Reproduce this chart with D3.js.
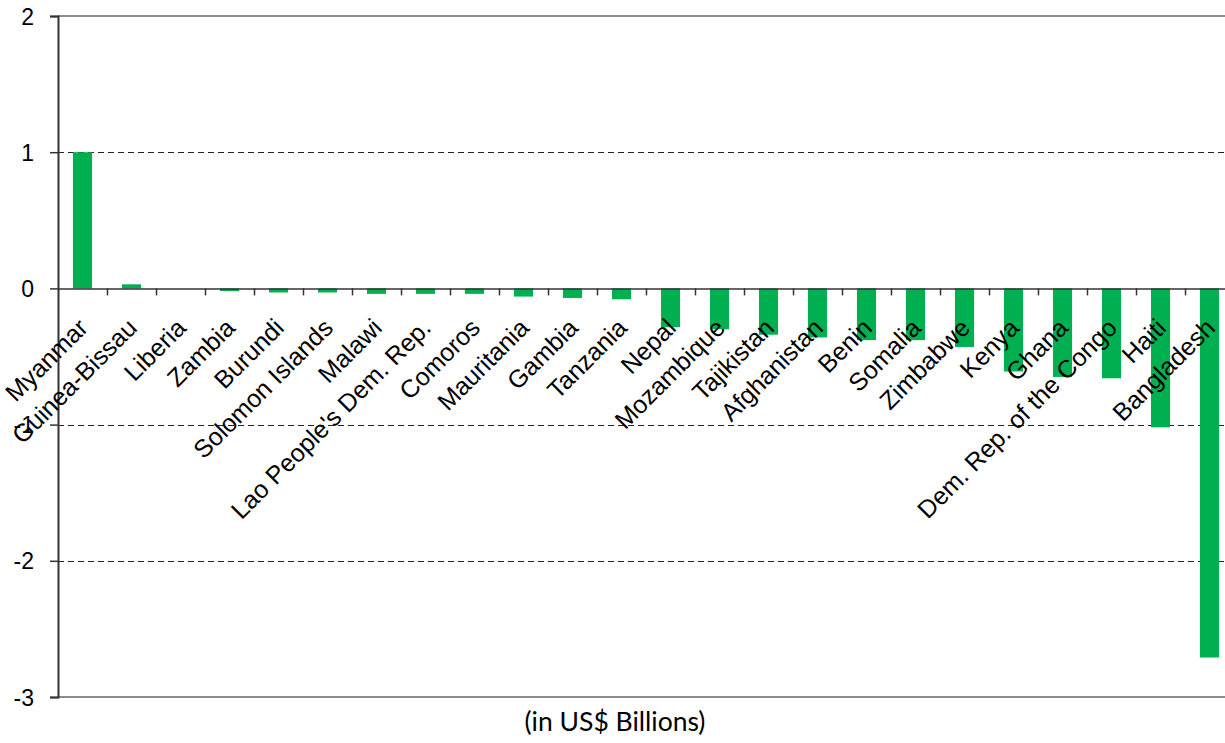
<!DOCTYPE html>
<html>
<head>
<meta charset="utf-8">
<script src="https://cdn.jsdelivr.net/npm/d3@7"></script>
<style>
  html, body { margin: 0; padding: 0; background: #fff; }
  svg { display: block; }
  .arial { font-family: 'Liberation Sans', Arial, sans-serif; }
</style>
</head>
<body>
<svg id="chart" width="1225" height="743"></svg>
<script>
const countries = ["Myanmar", "Guinea-Bissau", "Liberia", "Zambia", "Burundi", "Solomon Islands",
  "Malawi", "Lao People's Dem. Rep.", "Comoros", "Mauritania", "Gambia", "Tanzania", "Nepal",
  "Mozambique", "Tajikistan", "Afghanistan", "Benin", "Somalia", "Zimbabwe", "Kenya", "Ghana",
  "Dem. Rep. of the Congo", "Haiti", "Bangladesh"];
const values = [1.00, 0.03, 0.00, -0.02, -0.03, -0.03, -0.04, -0.04, -0.04, -0.06, -0.07, -0.08,
  -0.285, -0.30, -0.34, -0.36, -0.38, -0.38, -0.43, -0.61, -0.65, -0.66, -1.02, -2.71];
const yTicks = [2, 1, 0, -1, -2, -3];
const gridTicks = [1, -1, -2];
const axisTitle = "(in US$ Billions)";

(function () {
const svg = d3.select("#chart");
const mLeft = 58, mRight = 1234, mTop = 16, mBottom = 697;

const x = d3.scaleBand().domain(countries).range([mLeft, mRight]).padding(0);
const y = d3.scaleLinear().domain([-3, 2]).range([mBottom, mTop]);
const barW = x.bandwidth() * 0.39;

// top & bottom frame
svg.append("line").attr("x1", mLeft).attr("x2", mRight).attr("y1", y(2)).attr("y2", y(2))
  .attr("stroke", "#8c8c8c").attr("stroke-width", 2);
svg.append("line").attr("x1", mLeft).attr("x2", mRight).attr("y1", y(-3)).attr("y2", y(-3))
  .attr("stroke", "#8c8c8c").attr("stroke-width", 2);

// gridlines
svg.append("g").selectAll("line").data(gridTicks).join("line")
  .attr("x1", mLeft).attr("x2", mRight)
  .attr("y1", d => Math.round(y(d)) + 0.5).attr("y2", d => Math.round(y(d)) + 0.5)
  .attr("stroke", "#222").attr("stroke-width", 1).attr("stroke-dasharray", "6,4");

// bars
svg.append("g").selectAll("rect").data(values).join("rect")
  .attr("x", (d, i) => x(countries[i]) + x.bandwidth() / 2 - barW / 2)
  .attr("width", barW)
  .attr("y", d => y(Math.max(0, d)))
  .attr("height", d => Math.abs(y(d) - y(0)))
  .attr("fill", "#00b050");

// zero axis with category ticks
const xAxis = d3.axisBottom(x).tickSizeInner(0).tickSizeOuter(0).tickFormat("");
const gx = svg.append("g").attr("transform", `translate(0,${y(0)})`).call(xAxis);
gx.select(".domain").attr("stroke", "#333").attr("stroke-width", 1.5);
gx.selectAll(".tick").remove();
svg.append("g").selectAll("line").data(countries.slice(1)).join("line")
  .attr("x1", d => Math.round(x(d)) + 0.5).attr("x2", d => Math.round(x(d)) + 0.5)
  .attr("y1", y(0)).attr("y2", y(0) + 7)
  .attr("stroke", "#333").attr("stroke-width", 1.5);

// y axis
const yAxis = d3.axisLeft(y).tickValues(yTicks).tickSize(8).tickPadding(16).tickFormat(d => String(d));
const gy = svg.append("g").attr("transform", `translate(${mLeft},0)`).call(yAxis);
gy.attr("font-family", null).attr("font-size", null).attr("class", "arial");
gy.select(".domain").attr("stroke", "#333").attr("stroke-width", 2);
gy.selectAll(".tick line").attr("stroke", "#333").attr("stroke-width", 1.5);
gy.selectAll(".tick text").style("font-size", "23px").attr("fill", "#000").attr("dy", "0.35em");

// category labels
svg.append("g").attr("class", "arial").selectAll("text").data(countries).join("text")
  .attr("transform", d => `translate(${x(d) + x.bandwidth() / 2 + 7},${y(0) + 41}) rotate(-45)`)
  .attr("text-anchor", "end")
  .style("font-size", "25px")
  .attr("fill", "#000")
  .text(d => d);

// axis title
svg.append("text")
  .attr("x", 615).attr("y", 731)
  .attr("text-anchor", "middle")
  .style("font-family", "Lato, Carlito, Calibri, sans-serif")
  .style("font-size", "26.5px")
  .attr("fill", "#000")
  .text(axisTitle);
})();
</script>
</body>
</html>
